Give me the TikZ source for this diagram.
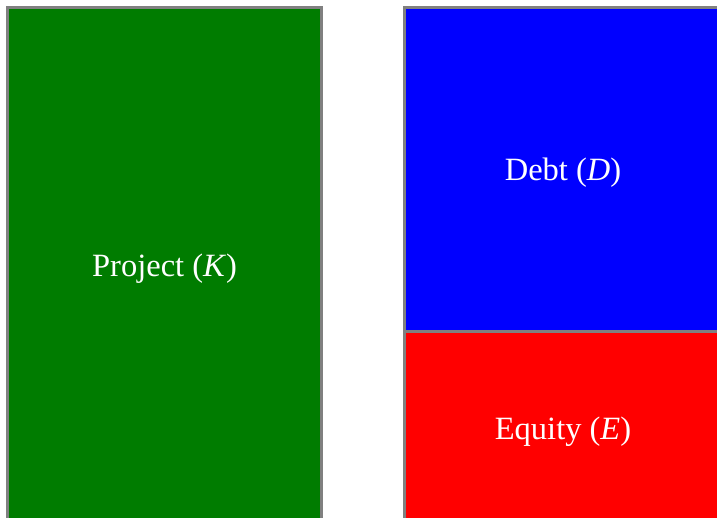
\documentclass[tikz,border=0pt]{standalone}
\usepackage{fontspec}
\setmainfont{Liberation Serif}
\definecolor{projgreen}{RGB}{0,124,0}
\definecolor{debtblue}{RGB}{0,0,255}
\definecolor{equityred}{RGB}{255,0,0}
\definecolor{edgegray}{RGB}{128,128,128}
\begin{document}
\begin{tikzpicture}[x=1pt,y=-1pt,
  block/.style={draw=edgegray, line width=2.5pt, rectangle, inner sep=0pt},
  caption/.style={text=white, inner sep=0pt, yshift=-3.5pt,
    font=\fontsize{32.5}{38}\selectfont}]
  \useasboundingbox (0,0) rectangle (717,517);
  \clip (0,0) rectangle (717,517);
  % asset side
  \node[block, fill=projgreen, minimum width=314pt, minimum height=516pt]
    (project) at (164.6,265.6) {};
  % financing side
  \node[block, fill=debtblue, minimum width=317pt, minimum height=323.75pt]
    (debt) at (563,169.6) {};
  \node[block, fill=equityred, minimum width=317pt, minimum height=192.5pt]
    (equity) at (563,427.75) {};
  % captions
  \node[caption] (projectlabel) at (project.center) {Project (\textit{K})};
  \node[caption] (debtlabel) at (debt.center) {Debt (\textit{D})};
  \node[caption] (equitylabel) at (equity.center) {Equity (\textit{E})};
\end{tikzpicture}
\end{document}
